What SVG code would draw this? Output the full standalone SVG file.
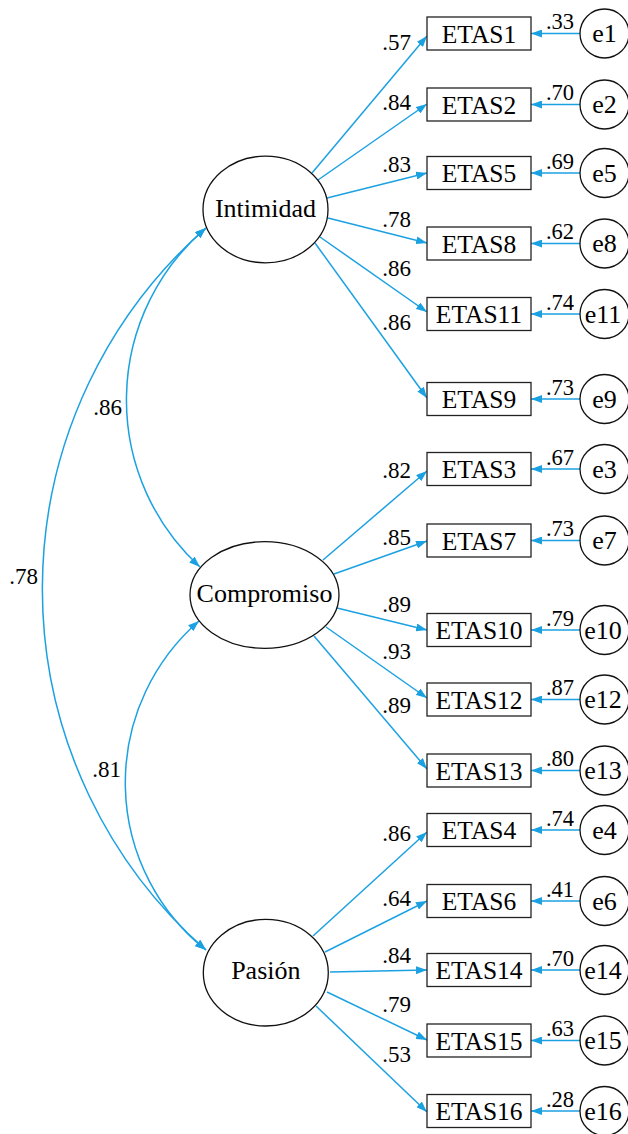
<svg xmlns="http://www.w3.org/2000/svg" width="628" height="1134" viewBox="0 0 628 1134" font-family="'Liberation Serif', 'Times New Roman', 'DejaVu Serif', serif">
<defs>
<marker id="ah" markerUnits="userSpaceOnUse" markerWidth="11" markerHeight="8" refX="11" refY="4" orient="auto-start-reverse" viewBox="0 0 11 8">
<path d="M0,0 L11,4 L0,8 z" fill="#1ba1e2"/>
</marker>
</defs>
<style>
.c{fill:none;stroke:#1ba1e2;stroke-width:1.5;marker-end:url(#ah)}
.cv{fill:none;stroke:#1ba1e2;stroke-width:1.5;marker-start:url(#ah);marker-end:url(#ah)}
.box{fill:#fff;stroke:#222;stroke-width:1.3}
.el{fill:#fff;stroke:#111;stroke-width:1.3}
.nt{font-size:25.5px;fill:#000;text-anchor:middle}
.lt{font-size:26px;fill:#000;text-anchor:middle}
.lb{font-size:23px;fill:#000;text-anchor:end}
.el2{font-size:22.5px;fill:#000;text-anchor:end}
</style>
<rect width="628" height="1134" fill="#fff"/>

<g id="connectors">
<path class="cv" d="M206,228 A226,226 0 0 0 200,567"/>
<path class="cv" d="M199,621 A214,214 0 0 0 206,950"/>
<path class="cv" d="M206,228 A480,480 0 0 0 206,950"/>
<line class="c" x1="312" y1="173" x2="427" y2="36"/>
<line class="c" x1="318" y1="180" x2="427" y2="104"/>
<line class="c" x1="327" y1="198" x2="427" y2="173"/>
<line class="c" x1="328" y1="218" x2="427" y2="243"/>
<line class="c" x1="320" y1="237" x2="427" y2="312"/>
<line class="c" x1="315" y1="243" x2="427" y2="398"/>
<line class="c" x1="323" y1="560" x2="427" y2="471"/>
<line class="c" x1="334" y1="574" x2="427" y2="541"/>
<line class="c" x1="337" y1="608" x2="427" y2="630"/>
<line class="c" x1="326" y1="627" x2="427" y2="698"/>
<line class="c" x1="314" y1="636" x2="427" y2="769"/>
<line class="c" x1="313" y1="936" x2="427" y2="832"/>
<line class="c" x1="325" y1="952" x2="427" y2="901"/>
<line class="c" x1="330" y1="972" x2="427" y2="970"/>
<line class="c" x1="327" y1="992" x2="427" y2="1040"/>
<line class="c" x1="316" y1="1006" x2="427" y2="1112"/>
<line class="c" x1="580" y1="33.5" x2="531" y2="33.5"/>
<line class="c" x1="580" y1="104.5" x2="531" y2="104.5"/>
<line class="c" x1="580" y1="173" x2="531" y2="173"/>
<line class="c" x1="580" y1="243.5" x2="531" y2="243.5"/>
<line class="c" x1="580" y1="314" x2="531" y2="314"/>
<line class="c" x1="580" y1="399" x2="531" y2="399"/>
<line class="c" x1="580" y1="469" x2="531" y2="469"/>
<line class="c" x1="580" y1="540.5" x2="531" y2="540.5"/>
<line class="c" x1="580" y1="630" x2="531" y2="630"/>
<line class="c" x1="580" y1="699.5" x2="531" y2="699.5"/>
<line class="c" x1="580" y1="770.5" x2="531" y2="770.5"/>
<line class="c" x1="580" y1="830" x2="531" y2="830"/>
<line class="c" x1="580" y1="901" x2="531" y2="901"/>
<line class="c" x1="580" y1="970" x2="531" y2="970"/>
<line class="c" x1="580" y1="1040.5" x2="531" y2="1040.5"/>
<line class="c" x1="580" y1="1111" x2="531" y2="1111"/>
<text class="lb" x="122" y="415">.86</text>
<text class="lb" x="121" y="777">.81</text>
<text class="lb" x="38" y="584">.78</text>
<text class="lb" x="411" y="50">.57</text>
<text class="lb" x="411" y="110">.84</text>
<text class="lb" x="411" y="172">.83</text>
<text class="lb" x="411" y="227">.78</text>
<text class="lb" x="411" y="276">.86</text>
<text class="lb" x="411" y="330">.86</text>
<text class="lb" x="411" y="478">.82</text>
<text class="lb" x="411" y="545">.85</text>
<text class="lb" x="411" y="612">.89</text>
<text class="lb" x="411" y="659">.93</text>
<text class="lb" x="411" y="713">.89</text>
<text class="lb" x="411" y="841">.86</text>
<text class="lb" x="411" y="906">.64</text>
<text class="lb" x="411" y="963">.84</text>
<text class="lb" x="411" y="1012">.79</text>
<text class="lb" x="411" y="1062">.53</text>
<text class="el2" x="574" y="29">.33</text>
<text class="el2" x="574" y="100">.70</text>
<text class="el2" x="574" y="168.5">.69</text>
<text class="el2" x="574" y="239">.62</text>
<text class="el2" x="574" y="309.5">.74</text>
<text class="el2" x="574" y="394.5">.73</text>
<text class="el2" x="574" y="464.5">.67</text>
<text class="el2" x="574" y="536">.73</text>
<text class="el2" x="574" y="625.5">.79</text>
<text class="el2" x="574" y="695">.87</text>
<text class="el2" x="574" y="766">.80</text>
<text class="el2" x="574" y="825.5">.74</text>
<text class="el2" x="574" y="896.5">.41</text>
<text class="el2" x="574" y="965.5">.70</text>
<text class="el2" x="574" y="1036">.63</text>
<text class="el2" x="574" y="1106.5">.28</text>
</g>

<g id="Intimidad"><ellipse class="el" cx="265.5" cy="209.5" rx="62.5" ry="53.3"/><text class="lt" x="265.5" y="217">Intimidad</text></g>
<g id="Compromiso"><ellipse class="el" cx="264.5" cy="595" rx="74.5" ry="53.3"/><text class="lt" x="264.5" y="602">Compromiso</text></g>
<g id="Pasion"><ellipse class="el" cx="265.8" cy="972.7" rx="62.5" ry="53.3"/><text class="lt" x="265.8" y="979">Pasión</text></g>

<g id="ETAS1"><rect class="box" x="427" y="17" width="104" height="33"/><text class="nt" x="479" y="42.5">ETAS1</text></g>
<g id="ETAS2"><rect class="box" x="427" y="88" width="104" height="33"/><text class="nt" x="479" y="113.5">ETAS2</text></g>
<g id="ETAS5"><rect class="box" x="427" y="156.5" width="104" height="33"/><text class="nt" x="479" y="182">ETAS5</text></g>
<g id="ETAS8"><rect class="box" x="427" y="227" width="104" height="33"/><text class="nt" x="479" y="252.5">ETAS8</text></g>
<g id="ETAS11"><rect class="box" x="427" y="297.5" width="104" height="33"/><text class="nt" x="479" y="323">ETAS11</text></g>
<g id="ETAS9"><rect class="box" x="427" y="382.5" width="104" height="33"/><text class="nt" x="479" y="408">ETAS9</text></g>
<g id="ETAS3"><rect class="box" x="427" y="452.5" width="104" height="33"/><text class="nt" x="479" y="478">ETAS3</text></g>
<g id="ETAS7"><rect class="box" x="427" y="524" width="104" height="33"/><text class="nt" x="479" y="549.5">ETAS7</text></g>
<g id="ETAS10"><rect class="box" x="427" y="613.5" width="104" height="33"/><text class="nt" x="479" y="639">ETAS10</text></g>
<g id="ETAS12"><rect class="box" x="427" y="683" width="104" height="33"/><text class="nt" x="479" y="708.5">ETAS12</text></g>
<g id="ETAS13"><rect class="box" x="427" y="754" width="104" height="33"/><text class="nt" x="479" y="779.5">ETAS13</text></g>
<g id="ETAS4"><rect class="box" x="427" y="813.5" width="104" height="33"/><text class="nt" x="479" y="839">ETAS4</text></g>
<g id="ETAS6"><rect class="box" x="427" y="884.5" width="104" height="33"/><text class="nt" x="479" y="910">ETAS6</text></g>
<g id="ETAS14"><rect class="box" x="427" y="953.5" width="104" height="33"/><text class="nt" x="479" y="979">ETAS14</text></g>
<g id="ETAS15"><rect class="box" x="427" y="1024" width="104" height="33"/><text class="nt" x="479" y="1049.5">ETAS15</text></g>
<g id="ETAS16"><rect class="box" x="427" y="1094.5" width="104" height="33"/><text class="nt" x="479" y="1120">ETAS16</text></g>

<g id="e1"><circle class="el" cx="604.5" cy="33.5" r="24.5"/><text class="lt" x="604.5" y="42">e1</text></g>
<g id="e2"><circle class="el" cx="604.5" cy="104.5" r="24.5"/><text class="lt" x="604.5" y="113">e2</text></g>
<g id="e5"><circle class="el" cx="604.5" cy="173" r="24.5"/><text class="lt" x="604.5" y="181.5">e5</text></g>
<g id="e8"><circle class="el" cx="604.5" cy="243.5" r="24.5"/><text class="lt" x="604.5" y="252">e8</text></g>
<g id="e11"><circle class="el" cx="604.5" cy="314" r="24.5"/><text class="lt" x="603" y="322.5">e11</text></g>
<g id="e9"><circle class="el" cx="604.5" cy="399" r="24.5"/><text class="lt" x="604.5" y="407.5">e9</text></g>
<g id="e3"><circle class="el" cx="604.5" cy="469" r="24.5"/><text class="lt" x="604.5" y="477.5">e3</text></g>
<g id="e7"><circle class="el" cx="604.5" cy="540.5" r="24.5"/><text class="lt" x="604.5" y="549">e7</text></g>
<g id="e10"><circle class="el" cx="604.5" cy="630" r="24.5"/><text class="lt" x="603" y="638.5">e10</text></g>
<g id="e12"><circle class="el" cx="604.5" cy="699.5" r="24.5"/><text class="lt" x="603" y="708">e12</text></g>
<g id="e13"><circle class="el" cx="604.5" cy="770.5" r="24.5"/><text class="lt" x="603" y="779">e13</text></g>
<g id="e4"><circle class="el" cx="604.5" cy="830" r="24.5"/><text class="lt" x="604.5" y="838.5">e4</text></g>
<g id="e6"><circle class="el" cx="604.5" cy="901" r="24.5"/><text class="lt" x="604.5" y="909.5">e6</text></g>
<g id="e14"><circle class="el" cx="604.5" cy="970" r="24.5"/><text class="lt" x="603" y="978.5">e14</text></g>
<g id="e15"><circle class="el" cx="604.5" cy="1040.5" r="24.5"/><text class="lt" x="603" y="1049">e15</text></g>
<g id="e16"><circle class="el" cx="604.5" cy="1111" r="24.5"/><text class="lt" x="603" y="1119.5">e16</text></g>
</svg>
